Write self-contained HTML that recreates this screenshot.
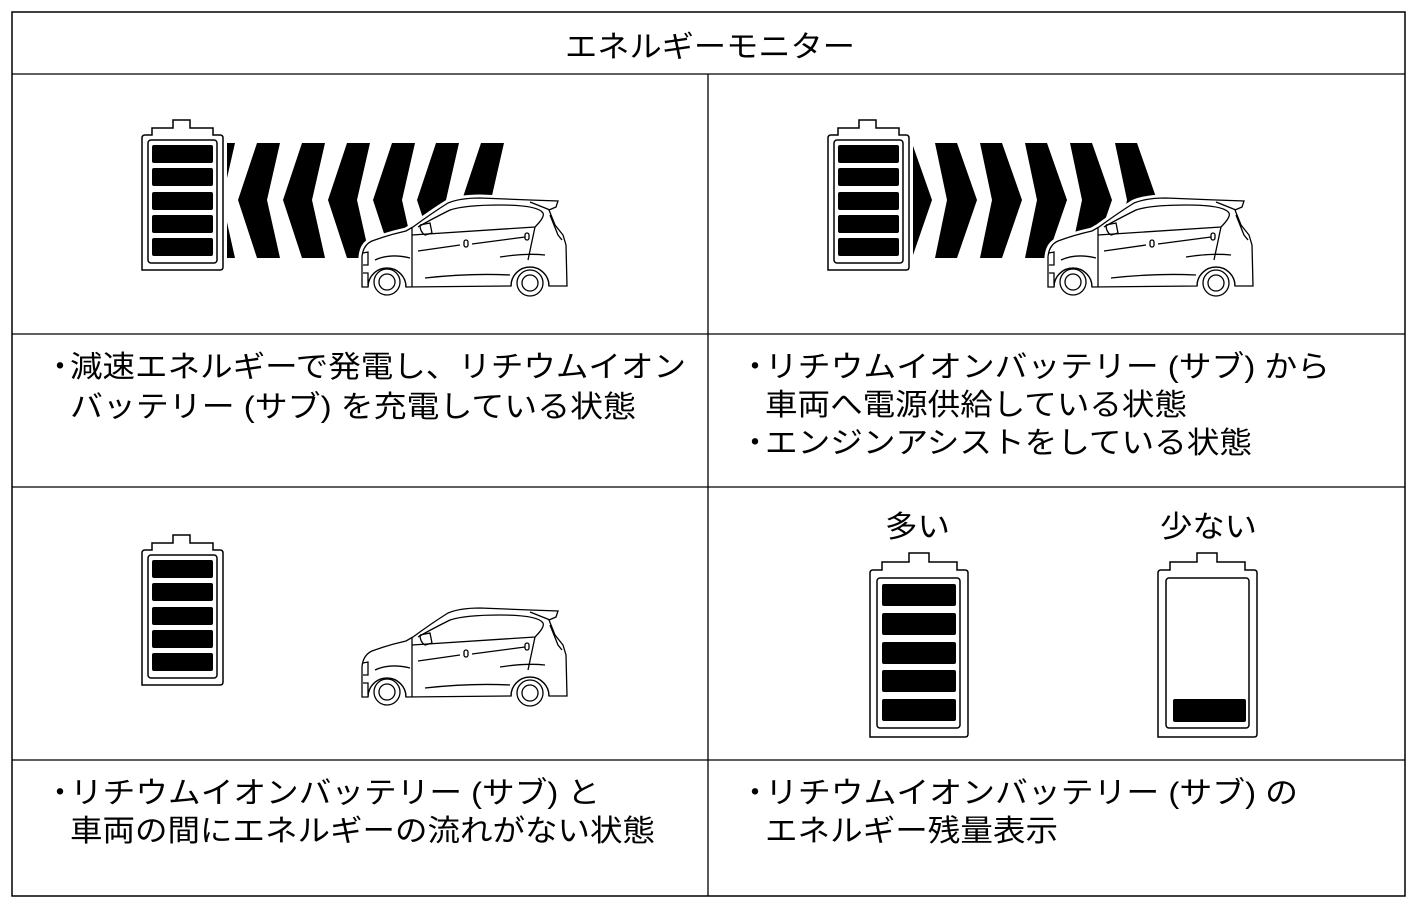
<!DOCTYPE html>
<html><head><meta charset="utf-8"><style>
html,body{margin:0;padding:0;background:#fff}
svg{display:block}
text{font-family:"Liberation Sans","Noto Sans CJK JP",sans-serif;font-size:30px;fill:#000}
</style></head><body>
<svg width="1417" height="909" viewBox="0 0 1417 909" xmlns="http://www.w3.org/2000/svg">
<defs>
<g id="bat">
  <path d="M142,270 L142,138 Q142,135 145,135 L152,135 L152,128 L173,128 L173,120 L190,120 L190,128 L213,128 L213,135 L220,135 Q223,135 223,138 L223,267 Q223,270 220,270 Z" fill="#fff" stroke="#000" stroke-width="1.5"/>
  <rect x="148" y="140" width="69" height="123" rx="3" fill="none" stroke="#000" stroke-width="1.5"/>
</g>
<g id="cells">
  <rect x="152" y="145" width="61" height="18" rx="2"/>
  <rect x="152" y="168" width="61" height="18" rx="2"/>
  <rect x="152" y="192" width="61" height="18" rx="2"/>
  <rect x="152" y="215" width="61" height="18" rx="2"/>
  <rect x="152" y="238" width="61" height="18" rx="2"/>
</g>
<g id="car" fill="none" stroke="#000" stroke-width="1.3">
  <path d="M12,102 L12,72 Q13,60 22,56 Q38,50 56,46 L63,42 Q82,28 98,18 Q110,13 130,13 L180,15 L208,16 L206,22 L199,25 L205,40 L213,50 L216,60 L217,101 L199,101 A19,19 0 0 0 161,101 L56,102 A19,19 0 0 0 18,102 Z" fill="#fff" stroke="#fff" stroke-width="7"/>
  <path d="M12,102 L12,72 Q13,60 22,56 Q38,50 56,46 L63,42 Q82,28 98,18 Q110,13 130,13 L180,15 L208,16 L206,22 L199,25 L205,40 L213,50 L216,60 L217,101 L199,101 A19,19 0 0 0 161,101 L56,102 A19,19 0 0 0 18,102 Z" fill="#fff"/>
  <path d="M62,42 L62,102"/>
  <path d="M62,50 L185,42 Q195,32 193,28 Q188,20 150,20 Q115,20 100,25 Q80,35 68,42"/>
  <path d="M180,17 L200,25"/>
  <path d="M70,40 L80,38 L82,48 L75,50 Q70,47 70,40"/>
  <path d="M68,66 L110,60 M122,59 L175,52"/>
  <rect x="114" y="55" width="4" height="7" rx="2"/>
  <rect x="175" y="48" width="4" height="7" rx="2"/>
  <path d="M185,42 L178,75 M200,30 L208,50 L212,55"/>
  <path d="M13,68 L18,67 L18,80 L13,80 M13,88 L18,88 L18,100"/>
  <path d="M25,75 Q40,68 60,73 M150,72 Q175,68 195,70"/>
  <path d="M75,93 Q120,88 160,90"/>
  <circle cx="37" cy="97" r="13" fill="#fff"/><circle cx="37" cy="97" r="8"/>
  <circle cx="180" cy="98" r="13" fill="#fff"/><circle cx="180" cy="98" r="8"/>
  <path d="M18,102 A19,19 0 0 1 56,102 M161,101 A19,19 0 0 1 199,101"/>
</g>
<clipPath id="cl"><rect x="227" y="140" width="300" height="125"/></clipPath>
<clipPath id="cr"><rect x="913" y="140" width="300" height="125"/></clipPath>
</defs>

<rect x="12" y="12" width="1393" height="884" fill="none" stroke="#000" stroke-width="1.5"/>
<path d="M12,74 H1405 M12,334 H1405 M12,487 H1405 M12,760 H1405 M708,74 V896" stroke="#000" stroke-width="1.3" fill="none"/>

<text x="565" y="57" textLength="290" lengthAdjust="spacingAndGlyphs">エネルギーモニター</text>

<use href="#bat"/>
<use href="#cells"/>
<g clip-path="url(#cl)" fill="#000">
  <polygon points="193,200 212,143 235,143 222,200 235,258 212,258"/>
  <polygon points="238,200 257,143 280,143 267,200 280,258 257,258"/>
  <polygon points="283,200 302,143 325,143 312,200 325,258 302,258"/>
  <polygon points="328,200 347,143 370,143 357,200 370,258 347,258"/>
  <polygon points="373,200 392,143 415,143 402,200 415,258 392,258"/>
  <polygon points="417,200 436,143 459,143 446,200 459,258 436,258"/>
  <polygon points="462,200 481,143 504,143 491,200 504,258 481,258"/>
</g>
<use href="#car" transform="translate(350,185)"/>

<use href="#bat" transform="translate(686,0)"/>
<use href="#cells" transform="translate(686,0)"/>
<g clip-path="url(#cr)" fill="#000">
  <polygon points="932,200 912,143 890,143 902,200 890,258 912,258"/>
  <polygon points="977,200 957,143 935,143 947,200 935,258 957,258"/>
  <polygon points="1022,200 1002,143 980,143 992,200 980,258 1002,258"/>
  <polygon points="1067,200 1047,143 1025,143 1037,200 1025,258 1047,258"/>
  <polygon points="1112,200 1092,143 1070,143 1082,200 1070,258 1092,258"/>
  <polygon points="1157,200 1137,143 1115,143 1127,200 1115,258 1137,258"/>
</g>
<use href="#car" transform="translate(1036,185)"/>

<text x="45" y="377">・</text>
<text x="70" y="377" textLength="616" lengthAdjust="spacingAndGlyphs">減速エネルギーで発電し、リチウムイオン</text>
<text x="70" y="417" textLength="566" lengthAdjust="spacingAndGlyphs">バッテリー (サブ) を充電している状態</text>

<text x="740" y="377">・</text>
<text x="765" y="377" textLength="565" lengthAdjust="spacingAndGlyphs">リチウムイオンバッテリー (サブ) から</text>
<text x="765" y="415" textLength="422" lengthAdjust="spacingAndGlyphs">車両へ電源供給している状態</text>
<text x="740" y="453">・</text>
<text x="765" y="453" textLength="487" lengthAdjust="spacingAndGlyphs">エンジンアシストをしている状態</text>

<use href="#bat" transform="translate(0,415)"/>
<use href="#cells" transform="translate(0,415)"/>
<use href="#car" transform="translate(350,595)"/>

<g fill="#fff" stroke="#000" stroke-width="1.5">
  <path d="M870,737 L870,573 Q870,570 873,570 L882,570 L882,562 L909,562 L909,553 L929,553 L929,562 L957,562 L957,570 L965,570 Q968,570 968,573 L968,734 Q968,737 965,737 Z"/>
  <rect x="877" y="578" width="83" height="150" rx="3"/>
  <path d="M1158,737 L1158,573 Q1158,570 1161,570 L1170,570 L1170,562 L1197,562 L1197,553 L1217,553 L1217,562 L1245,562 L1245,570 L1254,570 Q1257,570 1257,573 L1257,734 Q1257,737 1254,737 Z"/>
  <rect x="1166" y="578" width="83" height="150" rx="3"/>
</g>
<g fill="#000">
  <rect x="882" y="584" width="74" height="22" rx="2"/>
  <rect x="882" y="613" width="74" height="22" rx="2"/>
  <rect x="882" y="642" width="74" height="22" rx="2"/>
  <rect x="882" y="670" width="74" height="22" rx="2"/>
  <rect x="882" y="699" width="74" height="22" rx="2"/>
  <rect x="1173" y="699" width="73" height="23" rx="2"/>
</g>
<text x="885" y="537" textLength="65" lengthAdjust="spacingAndGlyphs">多い</text>
<text x="1160" y="537" textLength="97" lengthAdjust="spacingAndGlyphs">少ない</text>

<text x="45" y="803">・</text>
<text x="70" y="803" textLength="530" lengthAdjust="spacingAndGlyphs">リチウムイオンバッテリー (サブ) と</text>
<text x="70" y="841" textLength="585" lengthAdjust="spacingAndGlyphs">車両の間にエネルギーの流れがない状態</text>

<text x="740" y="803">・</text>
<text x="765" y="803" textLength="533" lengthAdjust="spacingAndGlyphs">リチウムイオンバッテリー (サブ) の</text>
<text x="765" y="841" textLength="293" lengthAdjust="spacingAndGlyphs">エネルギー残量表示</text>
</svg>
</body></html>
